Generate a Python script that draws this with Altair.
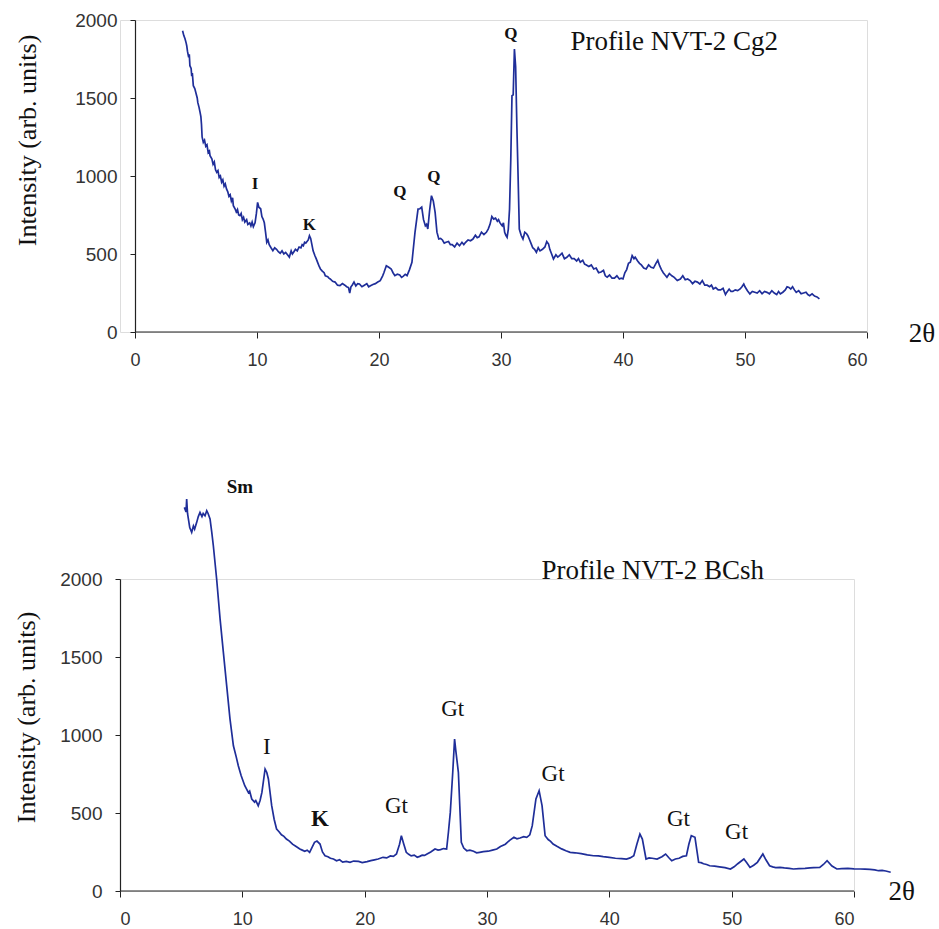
import altair as alt
import pandas as pd

# ---------------- data: top profile (NVT-2 Cg2), (2theta, intensity) ----------------
top_pts = [
    (3.9, 1931), (4.0, 1900), (4.1, 1880), (4.2, 1850), (4.24, 1835), (4.3, 1800), (4.4, 1760), (4.45, 1780),
    (4.5, 1707), (4.6, 1690), (4.65, 1640), (4.7, 1660), (4.78, 1579), (4.9, 1560), (5.0, 1530), (5.1, 1500),
    (5.15, 1470), (5.25, 1440), (5.33, 1410), (5.4, 1380), (5.45, 1330), (5.5, 1250), (5.6, 1216), (5.7, 1230),
    (5.8, 1190), (5.9, 1200), (6.0, 1150), (6.1, 1160), (6.15, 1130), (6.3, 1110), (6.4, 1075), (6.5, 1090),
    (6.6, 1040), (6.7, 1024), (6.8, 1035), (6.9, 990), (7.0, 1000), (7.1, 960), (7.2, 975), (7.3, 935),
    (7.4, 950), (7.5, 917), (7.6, 900), (7.7, 870), (7.8, 880), (7.9, 840), (8.0, 860), (8.06, 810),
    (8.2, 790), (8.3, 770), (8.4, 785), (8.5, 750), (8.6, 746), (8.7, 760), (8.8, 720), (8.9, 735),
    (9.0, 705), (9.15, 720), (9.25, 690), (9.4, 700), (9.5, 680), (9.6, 705), (9.7, 675), (9.84, 700),
    (9.95, 760), (10.05, 831), (10.15, 800), (10.3, 790), (10.4, 740), (10.5, 724), (10.6, 700), (10.7, 640),
    (10.8, 575), (10.9, 590), (11.0, 560), (11.15, 540), (11.3, 521), (11.45, 540), (11.6, 530), (11.75, 515),
    (11.9, 505), (12.05, 520), (12.2, 500), (12.35, 510), (12.5, 495), (12.65, 480), (12.8, 520), (12.9, 500),
    (13.0, 511), (13.15, 530), (13.3, 520), (13.45, 545), (13.6, 540), (13.7, 560), (13.8, 553), (13.9, 575),
    (14.0, 570), (14.1, 580), (14.2, 590), (14.3, 617), (14.4, 600), (14.5, 560), (14.6, 520), (14.75, 489),
    (14.85, 470), (15.0, 440), (15.1, 420), (15.2, 404), (15.35, 390), (15.5, 380), (15.6, 360), (15.8, 355),
    (15.9, 345), (16.0, 340), (16.2, 325), (16.4, 320), (16.6, 300), (16.8, 297), (17.0, 310), (17.2, 300),
    (17.35, 290), (17.5, 285), (17.6, 250), (17.7, 290), (17.8, 300), (17.95, 320), (18.1, 295), (18.25, 310),
    (18.4, 308), (18.6, 290), (18.8, 300), (19.0, 310), (19.15, 290), (19.3, 297), (19.5, 305), (19.7, 310),
    (19.9, 320), (20.1, 329), (20.3, 360), (20.4, 380), (20.6, 425), (20.8, 415), (21.0, 404), (21.15, 380),
    (21.3, 361), (21.5, 370), (21.7, 365), (21.85, 350), (22.0, 358), (22.15, 370), (22.3, 361), (22.5, 400),
    (22.7, 447), (22.95, 639), (23.2, 788), (23.35, 790), (23.5, 800), (23.65, 720), (23.8, 681), (23.9, 690),
    (24.0, 660), (24.15, 780), (24.3, 874), (24.45, 840), (24.6, 767), (24.75, 640), (24.9, 596), (25.05, 600),
    (25.2, 590), (25.35, 570), (25.5, 575), (25.7, 580), (25.85, 560), (26.0, 560), (26.2, 545), (26.4, 570),
    (26.6, 553), (26.8, 575), (26.95, 560), (27.1, 575), (27.3, 590), (27.5, 585), (27.7, 596), (27.9, 620),
    (28.05, 605), (28.2, 610), (28.4, 640), (28.6, 625), (28.8, 639), (28.95, 660), (29.1, 690), (29.25, 740),
    (29.4, 724), (29.55, 730), (29.7, 710), (29.8, 720), (29.9, 703), (30.0, 690), (30.1, 680), (30.2, 700),
    (30.3, 639), (30.4, 620), (30.5, 607), (30.6, 660), (30.7, 788), (30.8, 1100), (30.9, 1515), (31.0, 1520),
    (31.1, 1814), (31.2, 1700), (31.3, 1322), (31.4, 1000), (31.5, 660), (31.65, 620), (31.8, 596), (31.95, 640),
    (32.1, 630), (32.2, 617), (32.35, 590), (32.5, 560), (32.6, 540), (32.75, 530), (32.9, 511), (33.05, 540),
    (33.2, 520), (33.4, 530), (33.6, 545), (33.75, 580), (33.9, 564), (34.0, 530), (34.15, 500), (34.3, 468),
    (34.5, 495), (34.65, 480), (34.8, 490), (35.0, 505), (35.2, 470), (35.4, 479), (35.6, 495), (35.8, 470),
    (36.0, 470), (36.2, 455), (36.35, 470), (36.5, 447), (36.7, 460), (36.85, 435), (37.0, 430), (37.2, 420),
    (37.4, 430), (37.6, 404), (37.8, 410), (38.0, 380), (38.2, 385), (38.4, 395), (38.55, 360), (38.7, 351),
    (38.9, 365), (39.1, 345), (39.3, 345), (39.5, 360), (39.7, 340), (39.85, 345), (40.0, 340), (40.15, 380),
    (40.3, 400), (40.45, 440), (40.6, 447), (40.75, 490), (40.9, 470), (41.0, 479), (41.2, 455), (41.35, 440),
    (41.5, 430), (41.7, 410), (41.9, 404), (42.1, 430), (42.3, 415), (42.5, 410), (42.7, 440), (42.85, 460),
    (43.0, 425), (43.15, 400), (43.3, 380), (43.45, 365), (43.6, 351), (43.8, 375), (44.0, 360), (44.2, 350),
    (44.45, 330), (44.7, 340), (44.9, 360), (45.1, 335), (45.3, 340), (45.5, 330), (45.7, 310), (45.9, 325),
    (46.1, 320), (46.3, 308), (46.5, 330), (46.7, 300), (46.9, 300), (47.1, 290), (47.25, 300), (47.4, 276),
    (47.6, 285), (47.8, 270), (48.0, 270), (48.2, 280), (48.4, 240), (48.5, 254), (48.7, 275), (48.85, 260),
    (49.0, 260), (49.2, 270), (49.4, 265), (49.6, 276), (49.75, 290), (49.9, 308), (50.0, 290), (50.2, 265),
    (50.4, 244), (50.6, 260), (50.8, 255), (51.0, 250), (51.2, 265), (51.4, 245), (51.6, 260), (51.8, 254),
    (52.0, 245), (52.2, 265), (52.4, 250), (52.6, 240), (52.75, 260), (52.9, 244), (53.1, 255), (53.3, 270),
    (53.45, 290), (53.6, 286), (53.75, 275), (53.9, 290), (54.05, 270), (54.2, 254), (54.4, 265), (54.6, 245),
    (54.8, 250), (55.0, 255), (55.15, 240), (55.3, 233), (55.5, 245), (55.7, 230), (55.9, 225), (56.1, 212),
]

top_lbl_text = ["I", "K", "Q", "Q", "Q"]
top_lbl_x = [9.84, 14.3, 21.7, 24.5, 30.8]
top_lbl_y = [949, 686, 897, 994, 1910]

# ---------------- data: bottom profile (NVT-2 BCsh), (2theta, intensity) ----------------
bot_pts = [
    (5.26, 2459), (5.4, 2430), (5.45, 2513), (5.52, 2420), (5.59, 2385), (5.7, 2330), (5.86, 2299), (6.0, 2340),
    (6.1, 2320), (6.27, 2363), (6.4, 2400), (6.54, 2427), (6.7, 2400), (6.8, 2420), (6.95, 2405), (7.09, 2438),
    (7.2, 2420), (7.36, 2385), (7.5, 2300), (7.63, 2213), (7.9, 2000), (8.18, 1744), (8.45, 1530), (8.72, 1316),
    (8.99, 1103), (9.27, 931), (9.5, 860), (9.67, 803), (9.9, 740), (10.2, 675), (10.5, 630), (10.6, 640),
    (10.77, 590), (11.0, 570), (11.1, 580), (11.3, 547), (11.45, 580), (11.6, 632), (11.86, 782), (12.0, 760),
    (12.13, 718), (12.4, 547), (12.6, 460), (12.8, 397), (13.0, 380), (13.2, 360), (13.4, 350), (13.6, 333),
    (13.85, 320), (14.1, 300), (14.4, 285), (14.7, 269), (14.9, 262), (15.1, 255), (15.3, 262), (15.5, 248),
    (15.7, 280), (15.9, 312), (16.1, 320), (16.35, 301), (16.55, 250), (16.76, 226), (17.0, 220), (17.2, 210),
    (17.45, 205), (17.7, 194), (17.95, 200), (18.2, 185), (18.5, 190), (18.8, 184), (19.1, 192), (19.5, 190),
    (19.8, 182), (20.2, 188), (20.5, 195), (20.8, 200), (21.1, 205), (21.5, 216), (21.8, 212), (22.1, 225),
    (22.35, 222), (22.6, 237), (22.85, 300), (23.0, 354), (23.2, 300), (23.4, 248), (23.6, 235), (23.8, 225),
    (24.05, 230), (24.3, 216), (24.5, 222), (24.7, 230), (24.9, 228), (25.1, 237), (25.4, 250), (25.75, 269),
    (26.0, 262), (26.2, 265), (26.45, 272), (26.7, 269), (26.85, 380), (27.0, 504), (27.2, 761), (27.35, 974),
    (27.45, 900), (27.66, 761), (27.8, 500), (27.9, 312), (28.1, 275), (28.35, 258), (28.6, 262), (28.9, 255),
    (29.15, 245), (29.4, 248), (29.7, 252), (30.1, 255), (30.45, 262), (30.8, 269), (31.1, 285), (31.5, 300),
    (31.85, 325), (32.2, 344), (32.45, 335), (32.7, 340), (33.0, 348), (33.25, 344), (33.5, 360), (33.7, 419),
    (34.0, 590), (34.26, 643), (34.5, 547), (34.75, 354), (35.0, 330), (35.2, 318), (35.4, 301), (35.75, 285),
    (36.1, 270), (36.45, 258), (36.8, 248), (37.2, 245), (37.7, 240), (38.2, 232), (38.7, 226), (39.1, 225),
    (39.5, 220), (40.0, 215), (40.5, 210), (41.0, 208), (41.4, 205), (41.7, 212), (42.0, 226), (42.25, 300),
    (42.5, 365), (42.7, 333), (43.0, 205), (43.25, 212), (43.5, 210), (43.9, 205), (44.3, 220), (44.6, 237),
    (44.85, 215), (45.1, 194), (45.4, 205), (45.7, 210), (46.0, 222), (46.3, 226), (46.5, 300), (46.7, 354),
    (47.0, 344), (47.3, 184), (47.5, 182), (47.7, 175), (47.95, 170), (48.2, 162), (48.6, 160), (49.0, 155),
    (49.45, 150), (49.9, 141), (50.2, 155), (50.5, 175), (51.0, 205), (51.25, 180), (51.5, 151), (51.8, 165),
    (52.1, 184), (52.55, 237), (52.8, 200), (53.1, 162), (53.35, 155), (53.6, 150), (53.95, 152), (54.3, 148),
    (54.7, 145), (55.05, 141), (55.5, 143), (56.0, 145), (56.4, 148), (56.7, 150), (57.2, 151), (57.5, 170),
    (57.8, 194), (58.2, 160), (58.6, 141), (59.0, 143), (59.5, 145), (60.0, 142), (60.5, 141), (60.9, 140),
    (61.3, 138), (61.7, 135), (62.0, 130), (62.3, 132), (62.6, 128), (63.0, 120),
]

bot_reg_text = ["I", "Gt", "Gt", "Gt", "Gt", "Gt"]
bot_reg_x = [12.0, 22.6, 27.2, 35.4, 45.65, 50.4]
bot_reg_y = [923, 547, 1167, 750, 462, 380]
bot_bold_text = ["K"]
bot_bold_x = [16.35]
bot_bold_y = [462]
bot_sm_text = ["Sm"]
bot_sm_x = [9.8]
bot_sm_y = [2590]

x_ticks = [0, 10, 20, 30, 40, 50, 60]
y_ticks = [0, 500, 1000, 1500, 2000]

LINE = "#1f2e99"
AX = "#222"
SERIF = "Liberation Serif"
SANS = "Liberation Sans"

top_df = pd.DataFrame(top_pts, columns=["t", "i"])
bot_df = pd.DataFrame(bot_pts, columns=["t", "i"])
top_df["o"] = range(len(top_df))
bot_df["o"] = range(len(bot_df))


def panel(df, x_lo, w, y_offset, tp, title_y, labels, title_txt, title_x, title_yv, th_x, th_y):
    xs = alt.Scale(domain=[x_lo, 60], nice=False, zero=False)
    ys = alt.Scale(domain=[0, 2000], nice=False)
    xa = alt.Axis(values=x_ticks, title=None, grid=False, tickSize=6, domain=False,
                  labelPadding=13, labelFont=SANS, labelFontSize=18, labelColor="#333",
                  tickColor=AX, format="d")
    ya = alt.Axis(values=y_ticks, title="Intensity (arb. units)", grid=False, format="d",
                  tickSize=5, labelPadding=13, labelFont=SANS, labelFontSize=19, labelColor="#333",
                  domainColor=AX, tickColor=AX, domainWidth=1.2, offset=y_offset,
                  titleFont=SERIF, titleFontSize=26, titleFontWeight="normal", titleColor="#111",
                  titlePadding=tp, titleY=title_y)
    line = alt.Chart(df).mark_line(color=LINE, strokeWidth=1.7, clip=False).encode(
        x=alt.X("t:Q", scale=xs, axis=xa),
        y=alt.Y("i:Q", scale=ys, axis=ya),
        order="o:Q",
    )
    xline = alt.Chart(pd.DataFrame({"a": [0]})).mark_rule(color=AX, strokeWidth=1.2).encode(
        x=alt.datum(0, scale=xs), x2=alt.datum(60), y=alt.datum(0, scale=ys))
    layers = [xline, line]
    for (txt, lx, ly, size, weight) in labels:
        d = pd.DataFrame({"txt": txt, "x": lx, "y": ly})
        layers.append(alt.Chart(d).mark_text(font=SERIF, fontSize=size, fontWeight=weight,
                                             color="#111", clip=False).encode(
            x=alt.X("x:Q", scale=xs), y=alt.Y("y:Q", scale=ys), text="txt:N"))
    td = pd.DataFrame({"txt": [title_txt], "x": [title_x], "y": [title_yv]})
    layers.append(alt.Chart(td).mark_text(font=SERIF, fontSize=27, align="left", color="#111",
                                          clip=False).encode(
        x=alt.X("x:Q", scale=xs), y=alt.Y("y:Q", scale=ys), text="txt:N"))
    thd = pd.DataFrame({"txt": ["2θ"], "x": [th_x], "y": [th_y]})
    layers.append(alt.Chart(thd).mark_text(font=SERIF, fontSize=27, color="#111",
                                           clip=False).encode(
        x=alt.X("x:Q", scale=xs), y=alt.Y("y:Q", scale=ys), text="txt:N"))
    return alt.layer(*layers).properties(width=w, height=312)


top = panel(top_df, -15 / 12.2, 747, -15, 34, 120,
            [(top_lbl_text, top_lbl_x, top_lbl_y, 17, "bold")],
            "Profile NVT-2 Cg2", 35.7, 1859, 64.5, -13)
bottom = panel(bot_df, 0, 734, 0, 20, 138,
               [(bot_reg_text, bot_reg_x, bot_reg_y, 23, "normal"),
                (bot_bold_text, bot_bold_x, bot_bold_y, 23, "bold"),
                (bot_sm_text, bot_sm_x, bot_sm_y, 19, "bold")],
               "Profile NVT-2 BCsh", 34.45, 2053, 63.9, -6)

chart = alt.vconcat(top, bottom, spacing=107).properties(
    padding={"left": 13, "top": 10, "right": 0, "bottom": 0}
).configure_view(stroke=None).configure(background="white")

chart.save("out.html", embed_options={"renderer": "svg", "actions": False})
